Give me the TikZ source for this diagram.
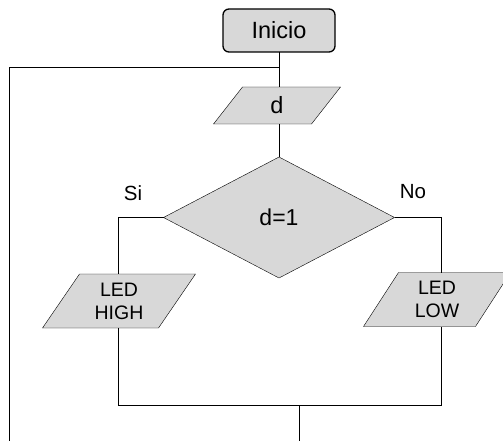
\documentclass[tikz,border=0pt]{standalone}
\usepackage{fontspec}
\setmainfont{Liberation Sans}
\usetikzlibrary{shapes.geometric}
\definecolor{shade}{HTML}{D8D8D8}
\pgfdeclarelayer{bg}
\pgfsetlayers{bg,main}
\newcommand\drawpara[2]{%
  \begin{pgfonlayer}{bg}
    \draw[fill=shade] ([xshift=#2/2] #1.north west) -- ([xshift=#2/2] #1.north east)
      -- ([xshift=-#2/2] #1.south east) -- ([xshift=-#2/2] #1.south west) -- cycle;
  \end{pgfonlayer}}
\begin{document}
\begin{tikzpicture}[x=1pt,y=-1pt,line width=1.3pt,
  startbox/.style={draw,fill=shade,rounded corners=6pt,minimum width=112pt,minimum height=43pt,
    inner sep=0pt,outer sep=0pt,font=\fontsize{23.5}{27}\selectfont},
  iobox/.style={inner sep=0pt,outer sep=0pt,align=center},
  decision/.style={diamond,draw,fill=shade,minimum width=231pt,minimum height=121pt,
    inner sep=0pt,outer sep=0pt,font=\fontsize{23}{27}\selectfont},
  lbl/.style={font=\fontsize{20.5}{24}\selectfont,inner sep=0pt},
  ledfont/.style={font=\fontsize{19.5}{23}\selectfont}]
\useasboundingbox (0,0) rectangle (503,441);
\node[startbox] (ini) at (279,30.5) {Inicio};
\node[iobox,minimum width=98pt,minimum height=37pt,font=\fontsize{23.5}{27}\selectfont] (d) at (277,105.5) {d};
\drawpara{d}{29}
\node[decision] (dia) at (279,217.5) {d=1};
\node[iobox,ledfont,minimum width=116pt,minimum height=54pt] (high) at (119,301) {LED\\HIGH};
\drawpara{high}{37}
\node[iobox,ledfont,minimum width=112pt,minimum height=54pt] (low) at (437,299.5) {LED\\LOW};
\drawpara{low}{35}
\node[lbl] (si) at (133,193) {Si};
\node[lbl] (no) at (413,192) {No};
\coordinate (j1) at (279,67);
\coordinate (lc) at (9,67);
\coordinate (lb) at (9,441);
\coordinate (lh) at (118,217.5);
\coordinate (rc) at (441,217.5);
\coordinate (ml) at (118,405);
\coordinate (mr) at (441,405);
\coordinate (me) at (299,405);
\coordinate (out) at (299,441);
\draw (ini.south) -- (ini.south |- d.north);
\draw (j1) -- (lc) -- (lb);
\draw (ini.south |- d.south) -- (dia.north);
\draw (dia.west) -- (lh) -- (lh |- high.north);
\draw (dia.east) -- (rc) -- (rc |- low.north);
\draw (lh |- high.south) -- (ml) -- (mr) -- (rc |- low.south);
\draw (me) -- (out);
\end{tikzpicture}
\end{document}
